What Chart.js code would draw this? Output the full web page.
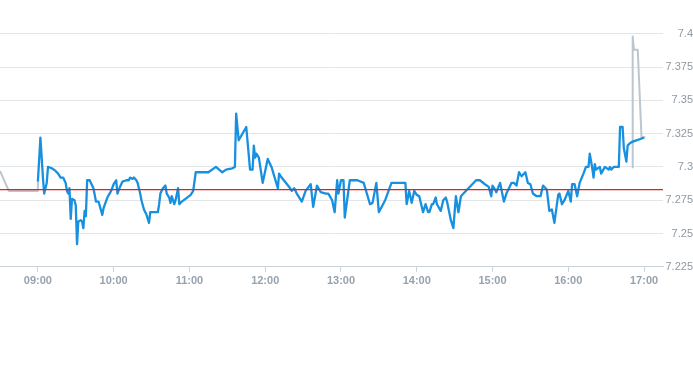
<!DOCTYPE html>
<html>
<head>
<meta charset="utf-8">
<script src="https://cdn.jsdelivr.net/npm/chart.js@4/dist/chart.umd.min.js"></script>
<style>
  html, body { margin: 0; padding: 0; background: #fff; }
  #wrap { width: 693px; height: 365px; }
</style>
</head>
<body>
<div id="wrap"><canvas id="priceChart" width="693" height="365"></canvas></div>
<script>
// intraday trade prices (blue)
var times = [
  '09:00','09:02','09:04','09:05','09:07','09:08','09:11','09:14','09:16','09:18',
  '09:20','09:22','09:23','09:24','09:25','09:26','09:27','09:29','09:30','09:31',
  '09:32','09:34','09:35','09:36','09:37','09:38','09:39','09:41','09:44','09:46',
  '09:48','09:51','09:52','09:55','09:58','10:00','10:02','10:03','10:05','10:07',
  '10:10','10:12','10:13','10:15','10:16','10:18','10:19','10:21','10:22','10:24',
  '10:26','10:28','10:29','10:35','10:36','10:37','10:39','10:41','10:42','10:44',
  '10:45','10:46','10:48','10:49','10:51','10:52','10:54','11:01','11:03','11:05',
  '11:09','11:15','11:21','11:26','11:29','11:34','11:36','11:37','11:39','11:45',
  '11:48','11:50','11:51','11:52','11:53','11:55','11:58','12:02','12:05','12:10',
  '12:11','12:13','12:19','12:21','12:23','12:25','12:29','12:32','12:36','12:38',
  '12:41','12:44','12:48','12:50','12:53','12:55','12:57','12:58','13:00','13:02',
  '13:03','13:07','13:13','13:18','13:23','13:25','13:28','13:30','13:35','13:40',
  '13:51','13:52','13:54','13:56','13:58','14:00','14:02','14:05','14:07','14:09',
  '14:10','14:12','14:13','14:15','14:16','14:19','14:21','14:23','14:24','14:27',
  '14:29','14:31','14:33','14:35','14:37','14:40','14:44','14:47','14:50','14:54',
  '14:57','14:59','15:00','15:02','15:03','15:06','15:09','15:11','15:15','15:17',
  '15:19','15:21','15:23','15:26','15:28','15:30','15:32','15:35','15:38','15:40',
  '15:43','15:45','15:47','15:49','15:52','15:53','15:55','15:57','16:00','16:02',
  '16:03','16:05','16:07','16:09','16:12','16:14','16:16','16:17','16:19','16:20',
  '16:21','16:22','16:25','16:26','16:29','16:32','16:33','16:34','16:36','16:40',
  '16:41','16:43','16:44','16:46','16:47','16:49','16:51','16:54','16:57','17:00'
];
var prices = [
  7.289, 7.322, 7.292, 7.280, 7.288, 7.300, 7.299, 7.297, 7.295, 7.292,
  7.292, 7.288, 7.282, 7.280, 7.284, 7.261, 7.276, 7.275, 7.271, 7.242,
  7.259, 7.260, 7.259, 7.254, 7.267, 7.263, 7.290, 7.290, 7.284, 7.274,
  7.274, 7.264, 7.269, 7.277, 7.282, 7.287, 7.290, 7.280, 7.285, 7.289,
  7.290, 7.290, 7.292, 7.291, 7.292, 7.290, 7.288, 7.280, 7.275, 7.268,
  7.264, 7.258, 7.266, 7.266, 7.272, 7.280, 7.284, 7.286, 7.280, 7.277,
  7.273, 7.278, 7.272, 7.275, 7.284, 7.272, 7.274, 7.279, 7.282, 7.296,
  7.296, 7.296, 7.300, 7.296, 7.298, 7.299, 7.300, 7.340, 7.320, 7.330,
  7.298, 7.298, 7.316, 7.307, 7.310, 7.307, 7.288, 7.306, 7.300, 7.284,
  7.295, 7.292, 7.285, 7.282, 7.284, 7.280, 7.274, 7.282, 7.287, 7.270,
  7.286, 7.281, 7.280, 7.280, 7.275, 7.266, 7.290, 7.280, 7.290, 7.290,
  7.262, 7.290, 7.290, 7.288, 7.272, 7.273, 7.288, 7.266, 7.275, 7.288,
  7.288, 7.272, 7.282, 7.273, 7.282, 7.279, 7.278, 7.266, 7.272, 7.266,
  7.266, 7.272, 7.272, 7.277, 7.272, 7.267, 7.275, 7.277, 7.274, 7.260,
  7.254, 7.278, 7.266, 7.278, 7.280, 7.283, 7.287, 7.290, 7.290, 7.287,
  7.285, 7.278, 7.286, 7.283, 7.281, 7.288, 7.274, 7.280, 7.288, 7.288,
  7.286, 7.296, 7.293, 7.296, 7.288, 7.287, 7.280, 7.278, 7.278, 7.286,
  7.283, 7.267, 7.268, 7.258, 7.279, 7.280, 7.272, 7.275, 7.282, 7.274,
  7.287, 7.287, 7.278, 7.288, 7.295, 7.300, 7.300, 7.310, 7.299, 7.292,
  7.302, 7.298, 7.300, 7.295, 7.300, 7.298, 7.300, 7.298, 7.300, 7.300,
  7.330, 7.330, 7.314, 7.304, 7.316, 7.318, 7.319, 7.320, 7.321, 7.322
];

// pre-open and after-close trades (grey)
var preTimes   = ['08:30', '08:37', '09:00', '09:00'];
var prePrices  = [7.297, 7.282, 7.282, 7.289];
var postTimes  = ['16:51', '16:51', '16:52', '16:55', '16:58', '17:01'];
var postPrices = [7.299, 7.398, 7.388, 7.388, 7.322, 7.3225];

var prevClose = 7.283;
var yTicks = [7.225, 7.25, 7.275, 7.3, 7.325, 7.35, 7.375, 7.4];
var xTickLabels = ['09:00', '10:00', '11:00', '12:00', '13:00', '14:00', '15:00', '16:00', '17:00'];

function toMin(t) {
    var p = t.split(':');
    return parseInt(p[0], 10) * 60 + parseInt(p[1], 10);
}
function pad(n) { return (n < 10 ? '0' : '') + n; }
function points(ts, vs) {
    return ts.map(function (t, i) { return { x: toMin(t), y: vs[i] }; });
}

var xMin = toMin('08:30');
var xMax = toMin('17:15');

new Chart(document.getElementById('priceChart'), {
    type: 'line',
    data: {
        datasets: [
            {
                data: [{ x: xMin, y: prevClose }, { x: xMax, y: prevClose }],
                borderColor: '#ec1c1c',
                borderWidth: 1.2,
                pointRadius: 0
            },
            {
                data: points(times, prices),
                borderColor: '#1890e0',
                borderWidth: 2.3,
                pointRadius: 0
            },
            {
                data: points(preTimes, prePrices),
                borderColor: '#bcc6cf',
                borderWidth: 2,
                pointRadius: 0
            },
            {
                data: points(postTimes, postPrices),
                borderColor: '#bcc6cf',
                borderWidth: 2,
                pointRadius: 0
            }
        ]
    },
    options: {
        responsive: false,
        animation: false,
        devicePixelRatio: 1,
        layout: { padding: { left: 0, right: 0, top: 0, bottom: 74 } },
        plugins: { legend: { display: false }, tooltip: { enabled: false } },
        elements: { line: { tension: 0, borderJoinStyle: 'round' } },
        scales: {
            x: {
                type: 'linear',
                min: xMin,
                max: xMax,
                afterBuildTicks: function (axis) {
                    axis.ticks = xTickLabels.map(function (t) { return { value: toMin(t) }; });
                },
                ticks: {
                    autoSkip: false,
                    maxRotation: 0,
                    color: '#98a2ad',
                    font: { family: 'Liberation Sans', size: 11, weight: 'bold' },
                    padding: 3,
                    callback: function (v) { return pad(Math.floor(v / 60)) + ':' + pad(v % 60); }
                },
                grid: { drawOnChartArea: false, drawTicks: true, tickLength: 5, color: '#ccd3da' },
                border: { display: true, color: '#ccd3da' }
            },
            y: {
                position: 'right',
                min: 7.225,
                max: 7.4204,
                afterBuildTicks: function (axis) {
                    axis.ticks = yTicks.map(function (v) { return { value: v }; });
                },
                afterFit: function (axis) { axis.width = 30; },
                ticks: {
                    color: '#8f99a3',
                    crossAlign: 'far',
                    padding: 0,
                    font: { family: 'Liberation Sans', size: 11 },
                    callback: function (v) { return String(+v.toFixed(3)); }
                },
                grid: { color: '#e3e6e9', drawTicks: false },
                border: { display: false }
            }
        }
    }
});
</script>
</body>
</html>
